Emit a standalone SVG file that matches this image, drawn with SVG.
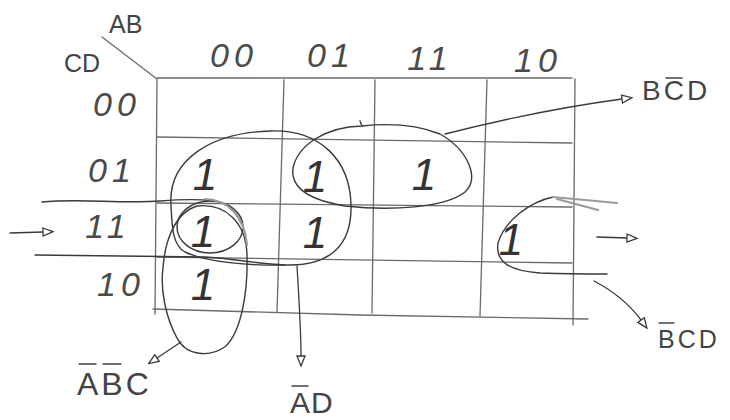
<svg xmlns="http://www.w3.org/2000/svg" width="730" height="420" viewBox="0 0 730 420">
<defs>
<style>
.grid{fill:none;stroke:#6a6a6a;stroke-width:1.3;stroke-linecap:round}
.loop{fill:none;stroke:#3a3a3a;stroke-width:1.4;stroke-linecap:round;stroke-linejoin:round}
.soft{fill:none;stroke:#9a9a9a;stroke-width:2.2;stroke-linecap:round}
.conn{fill:none;stroke:#3a3a3a;stroke-width:1.3;stroke-linecap:round}
.hd{font-family:"Liberation Sans",Arial,sans-serif;font-style:italic;font-size:34px;letter-spacing:5px;fill:#4a4a4a;text-anchor:middle}
.one{font-family:"Liberation Sans",Arial,sans-serif;font-style:italic;font-size:44px;fill:#333;text-anchor:middle}
.lb{font-family:"Liberation Sans",Arial,sans-serif;fill:#444}
.bar{stroke:#444;stroke-width:1.4;stroke-linecap:round}
</style>
<marker id="tri" viewBox="0 0 12 12" refX="1" refY="6" markerWidth="12" markerHeight="12" markerUnits="userSpaceOnUse" orient="auto">
<path d="M1,2 L11,6 L1,10 Z" fill="#fff" stroke="#3a3a3a" stroke-width="1.3"/>
</marker>
</defs>
<rect width="730" height="420" fill="#fff"/>

<g id="grid">
<path class="grid" d="M102,37 L157,79"/>
<path class="grid" d="M157,78 L572,78"/>
<path class="grid" d="M157,137 L572,143"/>
<path class="grid" d="M157,203 L572,207"/>
<path class="grid" d="M157,257 L572,263"/>
<path class="grid" d="M153,309 L360,315 L588,319"/>
<path class="grid" d="M157,80 L155,314"/>
<path class="grid" d="M284,80 L277,312"/>
<path class="grid" d="M375,80 L372,313"/>
<path class="grid" d="M487,80 L480,316"/>
<path class="grid" d="M575,79 L573,325"/>
</g>

<g id="headers">
<text class="lb" x="109" y="33" font-size="25">AB</text>
<text class="lb" x="64" y="72" font-size="25">CD</text>
<text class="hd" x="234" y="67">00</text>
<text class="hd" x="331" y="67">01</text>
<text class="hd" x="430" y="70">11</text>
<text class="hd" x="538" y="72">10</text>
<text class="hd" x="117" y="116">00</text>
<text class="hd" x="112" y="182">01</text>
<text class="hd" x="108" y="238">11</text>
<text class="hd" x="121" y="296">10</text>
</g>

<g id="cells">
<text class="one" x="205" y="190">1</text>
<text class="one" x="315" y="192">1</text>
<text class="one" x="424" y="190">1</text>
<text class="one" x="203" y="247">1</text>
<text class="one" x="315" y="248">1</text>
<text class="one" x="511" y="255">1</text>
<text class="one" x="203" y="300">1</text>
</g>

<g id="group-AD">
<path class="loop" d="M171,205 C168,160 210,133 270,131 C320,129 350,160 351,205 C352,245 330,265 290,265 C250,266 205,262 185,252 C172,245 172,225 171,205 Z"/>
<text class="lb" x="290" y="413" font-size="30" letter-spacing="1">AD</text>
<line class="bar" x1="292" y1="386" x2="308" y2="386"/>
</g>

<g id="group-BnotCD">
<path class="loop" d="M360,121 L362,126 C325,127 298,145 293,168 C290,190 315,201 345,206 C390,211 445,208 465,192 C480,178 468,150 440,134 C415,124 390,123 362,126"/>
<text class="lb" x="642" y="100" font-size="28" letter-spacing="3">BCD</text>
<line class="bar" x1="666" y1="78" x2="682" y2="78"/>
</g>

<g id="group-AnotBnotC">
<path class="loop" d="M197,206 C225,203 246,222 247,255 C248,290 242,330 226,346 C210,358 186,356 177,338 C166,318 160,290 163,268 C165,240 175,213 197,206 Z"/>
<text class="lb" x="77" y="395" font-size="32" letter-spacing="3">ABC</text>
<line class="bar" x1="79" y1="364" x2="96" y2="364"/>
<line class="bar" x1="103" y1="364" x2="121" y2="364"/>
</g>

<g id="group-notBCD">
<ellipse class="loop" cx="210" cy="227" rx="33" ry="26"/>
<path class="loop" d="M42,202 C80,198 120,204 160,201 C185,199 200,199 213,201"/>
<path class="soft" d="M205,199 C228,200 244,215 247,245"/>
<path class="loop" stroke-width="2" d="M35,255 L205,257 C230,258 250,263 285,265"/>
<path class="loop" d="M553,197 C530,202 505,220 498,243 C495,262 510,271 540,273 C570,274 590,274 607,274"/>
<path class="soft" stroke-width="1.5" d="M553,197 L617,203"/>
<path class="soft" stroke-width="1.5" d="M557,199 L598,210"/>
<text class="lb" x="658" y="348" font-size="25" letter-spacing="3">BCD</text>
<line class="bar" x1="659" y1="323" x2="674" y2="323"/>
</g>

<g id="connectors">
<path class="conn" marker-end="url(#tri)" d="M445,134 C500,120 570,106 622,99"/>
<path class="conn" marker-end="url(#tri)" d="M297,266 C299,300 301,330 301,356"/>
<path class="conn" marker-end="url(#tri)" d="M181,342 L157,358"/>
<path class="conn" marker-end="url(#tri)" d="M594,281 C615,292 630,305 641,320"/>
<path class="conn" marker-end="url(#tri)" d="M10,233 L43,232"/>
<path class="conn" marker-end="url(#tri)" d="M597,237 L627,238"/>
</g>
</svg>
